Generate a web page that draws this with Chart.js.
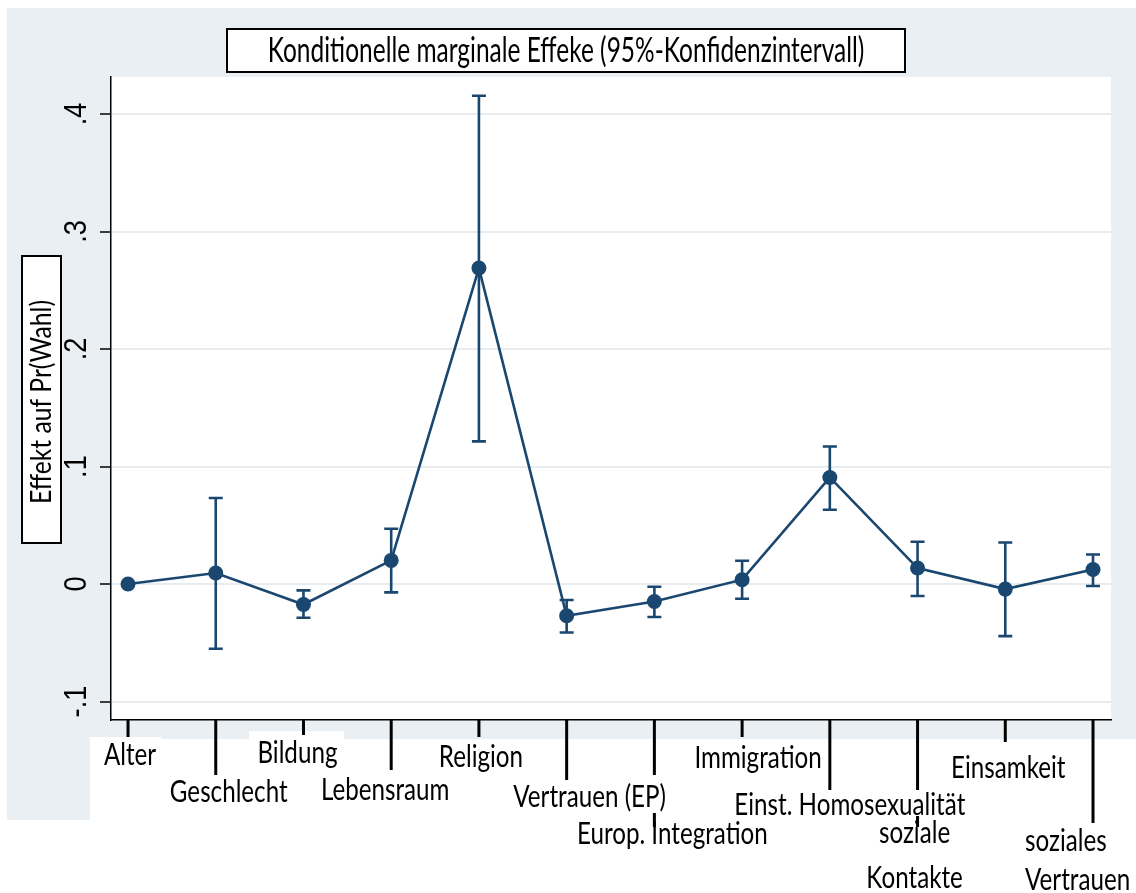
<!DOCTYPE html>
<html>
<head>
<meta charset="utf-8">
<script src="https://cdn.jsdelivr.net/npm/chart.js@4.4.1/dist/chart.umd.min.js"></script>
<style>
  html, body { margin: 0; padding: 0; background: #fff; }
  #wrap { width: 1136px; height: 893px; }
</style>
</head>
<body>
<div id="wrap"><canvas id="chart" width="1136" height="893"></canvas></div>
<script>
const titleText = 'Konditionelle marginale Effeke (95%-Konfidenzintervall)';
const yTitle = 'Effekt auf Pr(Wahl)';
const categories = ['Alter', 'Geschlecht', 'Bildung', 'Lebensraum', 'Religion', 'Vertrauen (EP)',
  'Europ. Integration', 'Immigration', 'Einst. Homosexualität', ['soziale', 'Kontakte'], 'Einsamkeit',
  ['soziales', 'Vertrauen']];
const effect = [0, 0.0094, -0.0174, 0.0201, 0.2689, -0.0270, -0.0148, 0.0037, 0.0907, 0.0136, -0.0043, 0.0124];
const ciLow = [null, -0.0551, -0.0287, -0.0071, 0.1214, -0.0412, -0.0281, -0.0125, 0.0632, -0.0102, -0.0443, -0.0017];
const ciHigh = [null, 0.0732, -0.0054, 0.0471, 0.4156, -0.0136, -0.0023, 0.0198, 0.1171, 0.0360, 0.0354, 0.0252];
const yTicks = [-0.1, 0, 0.1, 0.2, 0.3, 0.4];
const yTickLabels = ['-.1', '0', '.1', '.2', '.3', '.4'];

const navy = '#1a476f';
const bgGray = '#e9eff2';

// where the x labels sit (offset from tick, centre y of each line) and how far each tick hangs down
const labelPos = [
  { dx: 2, y: [755] }, { dx: 13, y: [792] }, { dx: -6, y: [753] }, { dx: -6, y: [790] },
  { dx: 2, y: [757] }, { dx: 23, y: [797] }, { dx: 18, y: [834] }, { dx: 16, y: [758] },
  { dx: 20, y: [805] }, { dx: -3, y: [833, 878] }, { dx: 3, y: [768] }, { dx: -68, y: [841, 880], left: true },
];
const tickEnd = [737, 775, 735, 770, 737, 780, 775, 737, 790, 790, 742, 823];

function txt(ctx, s, x, y, font, sx, align) {
  ctx.save();
  ctx.translate(x, y);
  ctx.scale(sx, 1);
  ctx.font = font;
  ctx.fillStyle = '#000';
  ctx.textAlign = align || 'center';
  ctx.textBaseline = 'middle';
  ctx.fillText(s, 0, 0);
  ctx.restore();
}

const backdrop = {
  id: 'backdrop',
  beforeDraw(chart) {
    const ctx = chart.ctx;
    const a = chart.chartArea;
    ctx.save();
    ctx.fillStyle = '#fff';
    ctx.fillRect(0, 0, chart.width, chart.height);
    ctx.fillStyle = bgGray;
    ctx.fillRect(7, 8, chart.width - 7, 739 - 8);
    ctx.fillRect(7, 739, 90 - 7, 820 - 739);
    ctx.fillStyle = '#fff';
    ctx.fillRect(a.left, a.top, a.right - a.left, a.bottom - a.top);
    ctx.fillRect(90, 737, 71, 10);
    ctx.fillRect(249, 731, 95, 16);
    ctx.restore();
  },
};

const errorBars = {
  id: 'errorBars',
  beforeDatasetsDraw(chart) {
    const ctx = chart.ctx;
    const xs = chart.scales.x, ys = chart.scales.y;
    ctx.save();
    ctx.strokeStyle = navy;
    ctx.lineWidth = 2.6;
    effect.forEach((v, i) => {
      if (ciLow[i] === null) return;
      const x = xs.getPixelForValue(i);
      const y1 = ys.getPixelForValue(ciLow[i]);
      const y2 = ys.getPixelForValue(ciHigh[i]);
      ctx.beginPath();
      ctx.moveTo(x, y1); ctx.lineTo(x, y2);
      ctx.moveTo(x - 7, y1); ctx.lineTo(x + 7, y1);
      ctx.moveTo(x - 7, y2); ctx.lineTo(x + 7, y2);
      ctx.stroke();
    });
    ctx.restore();
  },
};

const decorations = {
  id: 'decorations',
  afterDraw(chart) {
    const ctx = chart.ctx;
    const xs = chart.scales.x, ys = chart.scales.y;
    const a = chart.chartArea;
    ctx.save();
    // title box
    ctx.fillStyle = '#fff';
    ctx.fillRect(227, 29, 678, 43);
    ctx.strokeStyle = '#000';
    ctx.lineWidth = 2;
    ctx.strokeRect(227, 29, 678, 43);
    txt(ctx, titleText, 566, 51, '34px Lato', 0.72);

    // y title box
    ctx.fillStyle = '#fff';
    ctx.fillRect(22, 256, 39, 287);
    ctx.strokeRect(22, 256, 39, 287);
    ctx.save();
    ctx.translate(42, 402);
    ctx.rotate(-Math.PI / 2);
    txt(ctx, yTitle, 0, 0, '28px Lato', 0.88);
    ctx.restore();

    // y tick labels, rotated
    yTicks.forEach((t, i) => {
      const y = ys.getPixelForValue(t);
      ctx.save();
      ctx.translate(77, y);
      ctx.rotate(-Math.PI / 2);
      txt(ctx, yTickLabels[i], 0, 0, '32px "Liberation Sans"', 0.85);
      ctx.restore();
    });

    // x ticks, alternating lengths
    ctx.strokeStyle = '#000';
    ctx.lineWidth = 3;
    categories.forEach((c, i) => {
      const x = xs.getPixelForValue(i);
      ctx.beginPath();
      ctx.moveTo(x, a.bottom);
      ctx.lineTo(x, tickEnd[i]);
      ctx.stroke();
    });
    [[6, 813, 827], [9, 816, 827]].forEach(([i, y1, y2]) => {
      const x = xs.getPixelForValue(i);
      ctx.beginPath();
      ctx.moveTo(x, y1);
      ctx.lineTo(x, y2);
      ctx.stroke();
    });

    // x labels
    categories.forEach((c, i) => {
      const lines = Array.isArray(c) ? c : [c];
      const p = labelPos[i];
      const x = xs.getPixelForValue(i) + p.dx;
      lines.forEach((s, k) => {
        txt(ctx, s, x, p.y[k], '31px Lato', 0.78, p.left ? 'left' : 'center');
      });
    });
    ctx.restore();
  },
};

new Chart(document.getElementById('chart'), {
  type: 'line',
  data: {
    datasets: [{
      data: effect.map((v, i) => ({ x: i, y: v })),
      borderColor: navy,
      borderWidth: 2.6,
      pointRadius: 7.5,
      pointBackgroundColor: navy,
      pointBorderWidth: 0,
      tension: 0,
    }],
  },
  options: {
    responsive: false,
    animation: false,
    layout: { padding: { top: 77, right: 25, left: 0, bottom: 0 } },
    plugins: { legend: { display: false }, tooltip: { enabled: false }, title: { display: false } },
    scales: {
      x: {
        type: 'linear',
        min: -0.194,
        max: 11.205,
        grid: { display: false },
        ticks: { display: false },
        border: { display: true, color: '#000', width: 1.5 },
        afterFit: (s) => { s.height = 893 - 720; },
      },
      y: {
        type: 'linear',
        min: -0.1157,
        max: 0.4315,
        afterBuildTicks: (s) => { s.ticks = yTicks.map((v) => ({ value: v })); },
        grid: { color: '#e6ecef', lineWidth: 2, tickLength: 11, tickColor: '#000', tickWidth: 1.5 },
        ticks: { display: false },
        border: { display: true, color: '#000', width: 1.5 },
        afterFit: (s) => { s.width = 111; },
      },
    },
  },
  plugins: [backdrop, errorBars, decorations],
});
</script>
</body>
</html>
